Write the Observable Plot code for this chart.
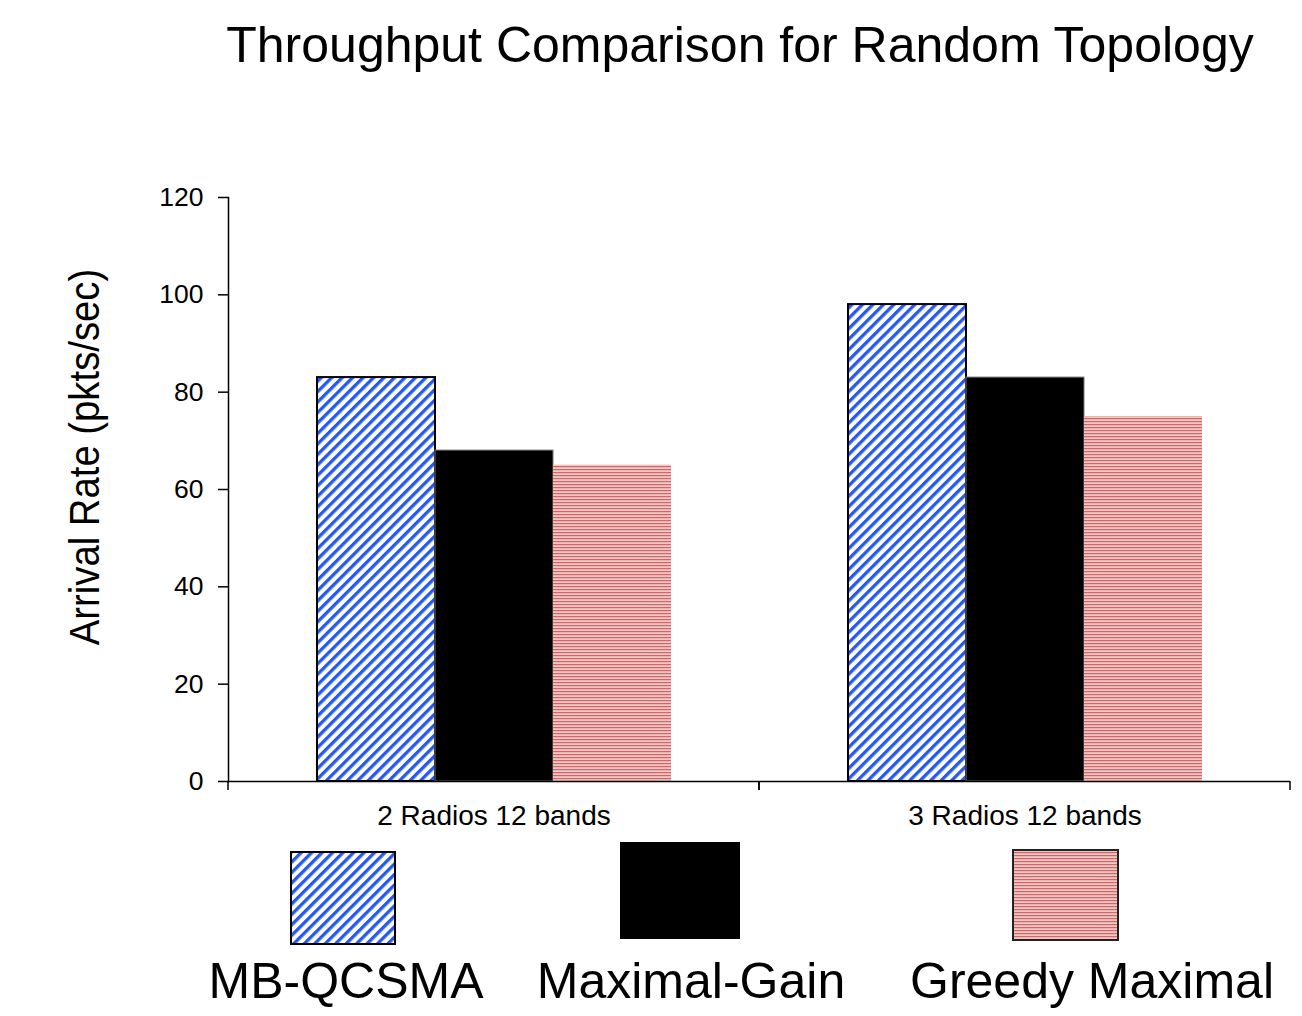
<!DOCTYPE html>
<html>
<head>
<meta charset="utf-8">
<script src="https://cdn.jsdelivr.net/npm/d3@7"></script>
<script src="https://cdn.jsdelivr.net/npm/@observablehq/plot@0.6"></script>
<style>
  body { margin: 0; background: #fff; font-family: "Liberation Sans", Arial, sans-serif; color: #000; }
  #wrap { position: relative; width: 1302px; height: 1016px; overflow: hidden; background: #fff; }
  #title { position: absolute; left: 0; top: 20px; width: 1480px; text-align: center; font-size: 50px; line-height: 50px; white-space: nowrap; }
  #chart { position: absolute; left: 0; top: 100px; }
  #ylabel { position: absolute; left: 84px; top: 457px; font-size: 43px; line-height: 43px; white-space: nowrap;
            transform: translate(-50%, -50%) rotate(-90deg) scaleX(0.89); }
  .lg-swatch { position: absolute; }
  .lg-label { position: absolute; font-size: 50px; line-height: 50px; white-space: nowrap; transform: translateX(-50%); }
</style>
</head>
<body>
<svg width="0" height="0" style="position:absolute">
  <defs>
    <pattern id="pBlue" patternUnits="userSpaceOnUse" width="7.4" height="7.4" patternTransform="rotate(45)">
      <rect width="7.4" height="7.4" fill="#fff"></rect>
      <rect x="0" width="3.3" height="7.4" fill="#2458f0"></rect>
    </pattern>
    <pattern id="pPink" patternUnits="userSpaceOnUse" width="6" height="3">
      <rect width="6" height="3" fill="#f3c6c6"></rect>
      <rect y="0" width="6" height="1.2" fill="#d26666"></rect>
    </pattern>
  </defs>
</svg>
<div id="wrap">
  <div id="title">Throughput Comparison for Random Topology</div>
  <div id="ylabel">Arrival Rate (pkts/sec)</div>
  <div id="chart"></div>
  <div id="legend"></div>
</div>
<script>
// ---- data ----
const groups = ["2 Radios 12 bands", "3 Radios 12 bands"];
const seriesNames = ["MB-QCSMA", "Maximal-Gain", "Greedy Maximal"];
const mbQcsma = [83, 98];
const maximalGain = [68, 83];
const greedyMaximal = [65, 75];
const yTicks = [0, 20, 40, 60, 80, 100, 120];

// ---- styles ----
const seriesStyle = {
  "MB-QCSMA": {fill: "url(#pBlue)", stroke: "#000", strokeWidth: 2},
  "Maximal-Gain": {fill: "#000", stroke: "#777", strokeWidth: 1},
  "Greedy Maximal": {fill: "url(#pPink)", stroke: "none", strokeWidth: 0}
};

const seriesValues = [mbQcsma, maximalGain, greedyMaximal];
const table = groups.flatMap((g, gi) =>
  seriesNames.map((s, si) => ({group: g, series: s, value: seriesValues[si][gi]})));

// category-boundary ticks below the x axis (drawn in each facet at its edges)
function facetEdgeTicks(index, scales, values, dims) {
  const {width, marginLeft, marginRight} = dims;
  const yBase = scales.y(0);
  const g = d3.create("svg:g").attr("stroke", "#000").attr("stroke-width", 1.5);
  g.selectAll("line").data([marginLeft, width - marginRight]).join("line")
    .attr("x1", d => d).attr("x2", d => d).attr("y1", yBase).attr("y2", yBase + 9);
  return g.node();
}

const barMarks = seriesNames.map(s => Plot.barY(table.filter(d => d.series === s), {
  fx: "group", x: "series", y: "value",
  fill: seriesStyle[s].fill, stroke: seriesStyle[s].stroke, strokeWidth: seriesStyle[s].strokeWidth,
  insetLeft: 0, insetRight: 0
}));

const chart = Plot.plot({
  width: 1302,
  height: 740,
  marginTop: 97,
  marginBottom: 59,
  marginLeft: 228,
  marginRight: 12,
  style: {fontFamily: "Liberation Sans, Arial, sans-serif", color: "#000", background: "transparent", overflow: "visible"},
  fx: {domain: groups, padding: 0, label: null, axis: null},
  x: {domain: seriesNames, paddingInner: 0, paddingOuter: 0.75, axis: null},
  y: {domain: [0, 120], axis: null},
  marks: [
    ...barMarks,
    Plot.ruleY([0], {stroke: "#000", strokeWidth: 1.5}),
    Plot.frame({anchor: "left", facetAnchor: "left", stroke: "#000", strokeWidth: 1.5}),
    Plot.axisY({ticks: yTicks, tickSize: 10, tickPadding: 15, fontSize: 26.5, strokeWidth: 1.5, label: null, facetAnchor: "left"}),
    Plot.axisFx({anchor: "bottom", tickSize: 0, tickPadding: 24, fontSize: 28, label: null}),
    facetEdgeTicks
  ]
});
document.getElementById("chart").appendChild(chart);

// ---- legend ----
const legendLayout = {
  "MB-QCSMA": {box: [290, 851, 106, 94], border: "#000", center: 346},
  "Maximal-Gain": {box: [620, 842, 120, 97], border: "#000", center: 691},
  "Greedy Maximal": {box: [1012, 849, 107, 92], border: "#222", center: 1092}
};
const legend = d3.select("#legend");
seriesNames.forEach(s => {
  const L = legendLayout[s];
  const [x, y, w, h] = L.box;
  const sw = legend.append("svg").attr("class", "lg-swatch")
    .style("left", x + "px").style("top", y + "px").attr("width", w).attr("height", h);
  sw.append("rect").attr("x", 1).attr("y", 1).attr("width", w - 2).attr("height", h - 2)
    .attr("fill", seriesStyle[s].fill).attr("stroke", L.border).attr("stroke-width", 2);
  legend.append("div").attr("class", "lg-label").style("left", L.center + "px").style("top", "956px").text(s);
});
</script>
</body>
</html>
